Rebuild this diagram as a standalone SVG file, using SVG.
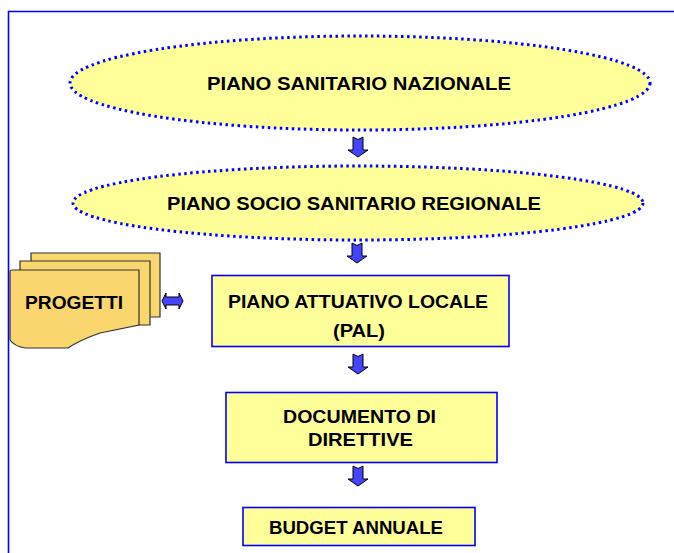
<svg xmlns="http://www.w3.org/2000/svg" width="674" height="553" viewBox="0 0 674 553">
<style>
.oval{fill:#ffff99;stroke:#0000ff;stroke-width:3;stroke-dasharray:2.5 3.5}
.box{fill:#ffff99;stroke:#0000ff;stroke-width:1.6}
.page{fill:#fad66e;stroke:#333333;stroke-width:1.2}
.t{font-family:"Liberation Sans",Arial,sans-serif;font-weight:bold;font-size:18px;fill:#000000;text-anchor:middle}
.arr{fill:#4444ff;stroke:#000000;stroke-width:1}
</style>
<defs>
<path id="darrow" d="M-5,0 L0,2.5 L5,0 L5,13 L10,13 L0,20 L-10,13 L-5,13 Z"/>
</defs>
<rect width="674" height="553" fill="#ffffff"/>
<g id="frame" fill="none" stroke="#0000ff" stroke-width="1.6">
<line x1="8" y1="11.5" x2="674" y2="11.5"/>
<line x1="8.5" y1="11" x2="8.5" y2="553"/>
</g>
<g id="n1">
<ellipse class="oval" cx="360" cy="83" rx="290" ry="47"/>
<text class="t" x="359" y="90" textLength="304" lengthAdjust="spacingAndGlyphs">PIANO SANITARIO NAZIONALE</text>
</g>
<g id="n2">
<ellipse class="oval" cx="358" cy="203" rx="285" ry="37"/>
<text class="t" x="354" y="210" textLength="374" lengthAdjust="spacingAndGlyphs">PIANO SOCIO SANITARIO REGIONALE</text>
</g>
<g id="n3">
<rect class="box" x="212" y="275.5" width="297" height="71"/>
<text class="t" x="358" y="308" textLength="260" lengthAdjust="spacingAndGlyphs">PIANO ATTUATIVO LOCALE</text>
<text class="t" x="359" y="337" textLength="52" lengthAdjust="spacingAndGlyphs">(PAL)</text>
</g>
<g id="n4">
<rect class="box" x="226" y="392.5" width="271" height="70"/>
<text class="t" x="359.5" y="423" textLength="153" lengthAdjust="spacingAndGlyphs">DOCUMENTO DI</text>
<text class="t" x="360.5" y="446" textLength="105" lengthAdjust="spacingAndGlyphs">DIRETTIVE</text>
</g>
<g id="n5">
<rect class="box" x="243" y="507.5" width="232" height="38"/>
<text class="t" x="356" y="534" textLength="174" lengthAdjust="spacingAndGlyphs">BUDGET ANNUALE</text>
</g>
<g id="progetti">
<path class="page" d="M31,253 H160 V317 H31 Z"/>
<path class="page" d="M20,261 H150 V325 H20 Z"/>
<path class="page" d="M10,272 Q10,270 12,270 H139 V325 L100,333 Q80,340 68,348 L25,348 Q14,346 10,340 Z"/>
<text class="t" x="74" y="309" textLength="98" lengthAdjust="spacingAndGlyphs">PROGETTI</text>
</g>
<g id="connectors">
<use href="#darrow" class="arr" transform="translate(358,137)"/>
<use href="#darrow" class="arr" transform="translate(357,243)"/>
<use href="#darrow" class="arr" transform="translate(358,354)"/>
<use href="#darrow" class="arr" transform="translate(358,466)"/>
<path class="arr" d="M162,301 L166,293 L166,297 L179,297 L179,293 L183,301 L179,309 L179,305 L166,305 L166,309 Z"/>
</g>
</svg>
